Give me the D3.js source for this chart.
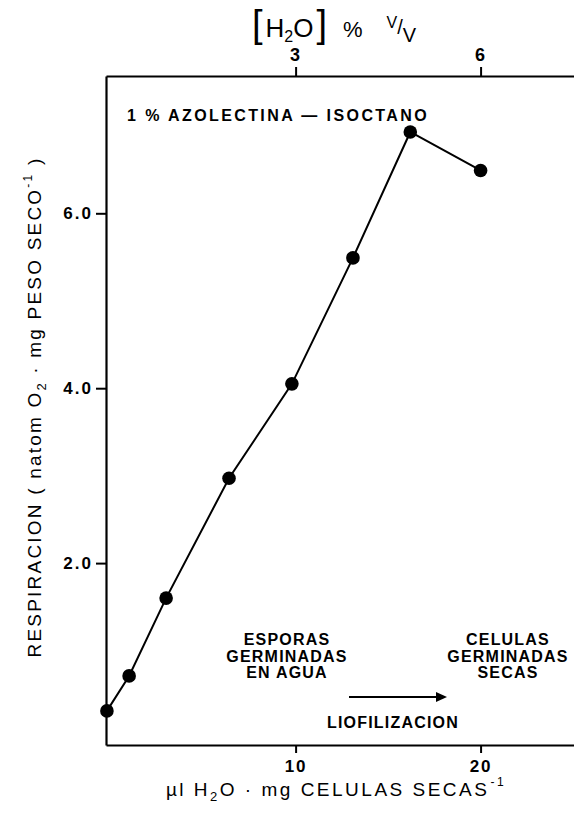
<!DOCTYPE html>
<html><head><meta charset="utf-8">
<script src="https://cdn.jsdelivr.net/npm/d3@7"></script>
<style>
html,body{margin:0;padding:0;background:#fff;}
svg{display:block;font-family:"Liberation Sans",Arial,sans-serif;}
</style></head>
<body>
<svg id="c" width="574" height="820"></svg>
<script>
// Data
const waterContent = [-0.2, 1.0, 3.0, 6.4, 9.8, 13.1, 16.2, 20.0];   // µl H2O · mg células secas^-1
const respiration  = [0.31, 0.71, 1.60, 2.97, 4.05, 5.49, 6.93, 6.49]; // natom O2 · mg peso seco^-1
const bottomTicks = [10, 20];
const topTicks = [3, 6];          // [H2O] % v/v
const leftTicks = [2, 4, 6];

const svg = d3.select("#c");
const x = d3.scaleLinear().domain([-0.25, 25.05]).range([106, 574]);
const xTop = d3.scaleLinear().domain([-0.25 * 0.3, 25.05 * 0.3]).range([106, 574]);
const y = d3.scaleLinear().domain([-0.08, 7.57]).range([745, 76]);

function styleAxis(g, fs){
  g.select(".domain").attr("stroke","#000").attr("stroke-width",2.2);
  g.selectAll(".tick line").attr("stroke","#000").attr("stroke-width",2);
  g.selectAll(".tick text").attr("fill","#000").attr("font-family","Liberation Sans, Arial, sans-serif")
    .attr("font-weight","bold").attr("font-size",fs).style("letter-spacing","2px");
}

svg.append("g").attr("transform","translate(0,745)")
  .call(d3.axisBottom(x).tickValues(bottomTicks).tickSize(8).tickSizeOuter(0).tickPadding(7).tickFormat(d3.format("d")))
  .call(g=>styleAxis(g,17));
svg.append("g").attr("transform","translate(0,76)")
  .call(d3.axisTop(xTop).tickValues(topTicks).tickSize(9).tickSizeOuter(0).tickPadding(6).tickFormat(d3.format("d")))
  .call(g=>styleAxis(g,18));
svg.append("g").attr("transform","translate(106,0)")
  .call(d3.axisLeft(y).tickValues(leftTicks).tickSize(10).tickSizeOuter(0).tickPadding(3).tickFormat(d3.format(".1f")))
  .call(g=>styleAxis(g,17));

// series
const pts = waterContent.map((d,i)=>[d, respiration[i]]);
svg.append("path").datum(pts)
  .attr("d", d3.line().x(d=>x(d[0])).y(d=>y(d[1])))
  .attr("fill","none").attr("stroke","#000").attr("stroke-width",2);
svg.selectAll("circle.pt").data(pts).join("circle").attr("class","pt")
  .attr("cx",d=>x(d[0])).attr("cy",d=>y(d[1])).attr("r",6.8).attr("fill","#000");

// top title [H2O] % V/V
const tt = svg.append("text").attr("x",252).attr("y",37).attr("fill","#000");
tt.append("tspan").attr("font-size",38).attr("font-weight","300").text("[");
tt.append("tspan").attr("font-size",26).attr("dx",3).text("H");
tt.append("tspan").attr("font-size",16).attr("dy",5).text("2");
tt.append("tspan").attr("font-size",26).attr("dy",-5).text("O");
tt.append("tspan").attr("font-size",38).attr("font-weight","300").attr("dx",3).text("]");
tt.append("tspan").attr("font-size",22).attr("dx",16).text("%");
tt.append("tspan").attr("font-size",16).attr("dx",24).attr("dy",-9).text("V");
tt.append("tspan").attr("font-size",20).attr("dy",6).text("/");
tt.append("tspan").attr("font-size",20).attr("dy",8).text("V");

// inner label
svg.append("text").attr("x",127).attr("y",121).attr("font-size",16).attr("font-weight","bold")
  .style("letter-spacing","2.4px").text("1 % AZOLECTINA — ISOCTANO");

// annotations
function block(lines, cx, y0){
  lines.forEach((t,i)=>svg.append("text").attr("x",cx).attr("y",y0+i*16.5)
    .attr("text-anchor","middle").attr("font-size",16).attr("font-weight","bold")
    .style("letter-spacing","1.2px").text(t));
}
block(["ESPORAS","GERMINADAS","EN AGUA"], 287, 645);
block(["CELULAS","GERMINADAS","SECAS"], 508, 645);
svg.append("line").attr("x1",349).attr("x2",438).attr("y1",697).attr("y2",697).attr("stroke","#000").attr("stroke-width",2);
svg.append("path").attr("d","M436,692 L447,697 L436,702 Z").attr("fill","#000");
svg.append("text").attr("x",393).attr("y",728).attr("text-anchor","middle").attr("font-size",16)
  .attr("font-weight","bold").style("letter-spacing","1.2px").text("LIOFILIZACION");

// x title
const xt = svg.append("text").attr("x",336).attr("y",796).attr("text-anchor","middle").attr("font-size",19).style("letter-spacing","2.5px");
xt.append("tspan").text("µl H");
xt.append("tspan").attr("font-size",13).attr("dy",5).text("2");
xt.append("tspan").attr("dy",-5).text("O · mg CELULAS SECAS");
xt.append("tspan").attr("font-size",12).attr("dx",1).attr("dy",-10).text("-1");

// y title
const yt = svg.append("text").attr("transform","translate(41,407) rotate(-90)").attr("text-anchor","middle")
  .attr("font-size",19).style("letter-spacing","2.2px");
yt.append("tspan").text("RESPIRACION ( natom O");
yt.append("tspan").attr("font-size",13).attr("dy",5).text("2");
yt.append("tspan").attr("dy",-5).text(" · mg PESO SECO");
yt.append("tspan").attr("font-size",12).attr("dy",-9).text("-1");
yt.append("tspan").attr("dy",9).text(" )");
</script>
</body></html>
